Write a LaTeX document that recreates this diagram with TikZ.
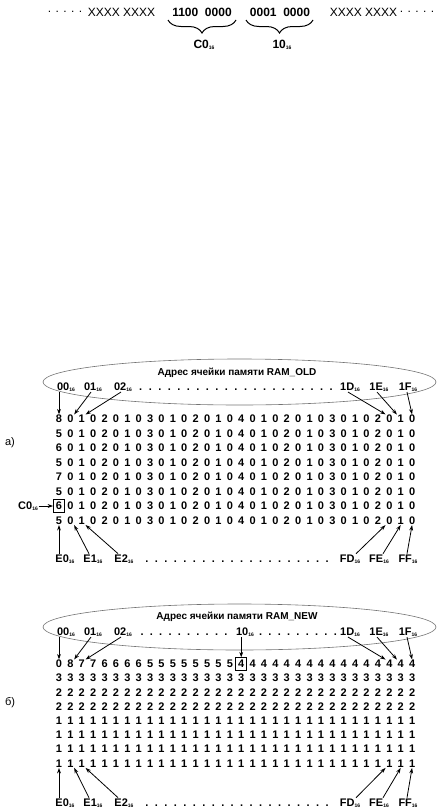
\documentclass[tikz,border=0pt]{standalone}
\usepackage{fontspec}
\setmainfont{Liberation Sans}
\usetikzlibrary{decorations.pathreplacing,arrows.meta,calc,shapes.geometric}
\newcommand\hexsub[1]{#1\raisebox{-1.3pt}{\fontsize{5}{5}\selectfont 16}}
\newcommand\mydotrow[2]{\hbox to #1{\xleaders\hbox to #2{\hss.\hss}\hfill}}
\begin{document}
\begin{tikzpicture}[x=1pt,y=-1pt,
  cell/.style={font=\fontsize{11}{11}\bfseries\selectfont, inner sep=0.5pt},
  lbl/.style={font=\fontsize{11}{11}\bfseries\selectfont, inner sep=0.5pt, anchor=base},
  ttl/.style={font=\fontsize{10}{10}\bfseries\selectfont, inner sep=0.5pt},
  topreg/.style={font=\fontsize{12}{12}\selectfont, inner sep=0.5pt},
  topbold/.style={font=\fontsize{12}{12}\bfseries\selectfont, inner sep=0.5pt},
  arr/.style={line width=0.8pt, -{Stealth[length=5.5pt,width=3.8pt]}},
  oval/.style={draw=black!55, line width=0.6pt},
  brc/.style={decorate, decoration={brace, mirror, amplitude=13pt}, line width=1pt},
  cellbox/.style={draw, line width=0.7pt, minimum width=11pt, minimum height=12.5pt, inner sep=0pt}]
\useasboundingbox (0,0) rectangle (445,811);

% ---------- top: bytes ----------
\node[topreg] (tdl) at (65,12) {. . . . .};
\node[topreg] (txl) at (121.5,12) {XXXX XXXX};
\node[topbold] (tb1) at (202,12) {1100\ \ 0000};
\node[topbold] (tb2) at (280,12) {0001\ \ 0000};
\node[topreg] (txr) at (363.5,12) {XXXX XXXX};
\node[topreg] (tdr) at (417,12) {. . . . .};
\coordinate (b1l) at (168,20); \coordinate (b1r) at (236,20);
\coordinate (b2l) at (246,20); \coordinate (b2r) at (313,20);
\draw[brc] (b1l) -- (b1r);
\draw[brc] (b2l) -- (b2r);
\node[topbold] (c0top) at (204,45) {\hexsub{C0}};
\node[topbold] (h10top) at (282,45) {\hexsub{10}};

% ---------- part a ----------
\node[oval, ellipse, minimum width=393pt, minimum height=46pt, inner sep=0pt] (ova) at (239.5,382) {};
\node[ttl] (tta) at (237,373) {Адрес ячейки памяти RAM\_OLD};
\node[lbl] (la00) at (66,390) {\hexsub{00}};
\node[lbl] (la01) at (93,390) {\hexsub{01}};
\node[lbl] (la02) at (123,390) {\hexsub{02}};
\node[lbl] (dta) at (236,390) {\mydotrow{200pt}{9.5pt}};
\node[lbl] (la1D) at (350,390) {\hexsub{1D}};
\node[lbl] (la1E) at (379,390) {\hexsub{1E}};
\node[lbl] (la1F) at (408,390) {\hexsub{1F}};

\foreach \first [count=\i from 0] in {8,5,6,5,7,5,6,5} {
  \node[cell] (a-\i-0) at (59,{419+14.5*\i}) {\first};
  \foreach \v [count=\j from 1] in {0,1,0,2,0,1,0,3,0,1,0,2,0,1,0,4,0,1,0,2,0,1,0,3,0,1,0,2,0,1,0} {
    \node[cell] (a-\i-\j) at ({59+11.39*\j},{419+14.5*\i}) {\v};
  }
}
\node[cellbox] (boxa) at (a-6-0) {};
\node[lbl] (lc0) at (28,509) {\hexsub{C0}};
\draw[arr] (lc0.east |- boxa.west) -- (boxa.west);

\draw[arr] (la00.south -| a-0-0.north) -- (a-0-0.north);
\draw[arr] ([xshift=-2pt]la01.south) -- (a-0-1.north east);
\draw[arr] ([xshift=-2pt]la02.south) -- (a-0-2.north east);
\draw[arr] ([xshift=-2pt]la1D.south) -- (a-0-29.north west);
\draw[arr] ([xshift=-2pt]la1E.south) -- (a-0-30.north west);
\draw[arr] ([xshift=-1pt]la1F.south) -- (a-0-31.north);

\node[lbl] (laE0) at (65,562) {\hexsub{E0}};
\node[lbl] (laE1) at (93,562) {\hexsub{E1}};
\node[lbl] (laE2) at (124,562) {\hexsub{E2}};
\node[lbl] (dba) at (237,562) {\mydotrow{190pt}{9.05pt}};
\node[lbl] (laFD) at (350,562) {\hexsub{FD}};
\node[lbl] (laFE) at (379,562) {\hexsub{FE}};
\node[lbl] (laFF) at (408,562) {\hexsub{FF}};
\draw[arr] (laE0.north -| a-7-0.south) -- (a-7-0.south);
\draw[arr] ([xshift=-4pt]laE1.north) -- (a-7-1.south east);
\draw[arr] ([xshift=-6pt]laE2.north) -- (a-7-2.south east);
\draw[arr] ([xshift=6pt]laFD.north) -- (a-7-29.south west);
\draw[arr] ([xshift=4pt]laFE.north) -- (a-7-30.south);
\draw[arr] ([xshift=-1pt]laFF.north) -- (a-7-31.south);

\node[font=\fontsize{11}{11}\selectfont] (pa) at (10,443) {а)};

% ---------- part b ----------
\node[oval, ellipse, minimum width=393pt, minimum height=46pt, inner sep=0pt] (ovb) at (239.5,627) {};
\node[ttl] (ttb) at (237,617) {Адрес ячейки памяти RAM\_NEW};
\node[lbl] (lb00) at (66,635) {\hexsub{00}};
\node[lbl] (lb01) at (93,635) {\hexsub{01}};
\node[lbl] (lb02) at (123,635) {\hexsub{02}};
\node[lbl] (dtb1) at (184,635) {\mydotrow{93pt}{9.3pt}};
\node[lbl] (lb10) at (245,635) {\hexsub{10}};
\node[lbl] (dtb2) at (298,635) {\mydotrow{84pt}{9.3pt}};
\node[lbl] (lb1D) at (350,635) {\hexsub{1D}};
\node[lbl] (lb1E) at (379,635) {\hexsub{1E}};
\node[lbl] (lb1F) at (408,635) {\hexsub{1F}};

\foreach \v [count=\j from 0] in {0,8,7,7,6,6,6,6,5,5,5,5,5,5,5,5,4,4,4,4,4,4,4,4,4,4,4,4,4,4,4,4} {
  \node[cell] (b-0-\j) at ({59+11.39*\j},664) {\v};
}
\foreach \v [count=\i] in {3,2,2,1,1,1,1} {
  \foreach \j in {0,...,31} {
    \node[cell] (b-\i-\j) at ({59+11.39*\j},{664+14.2*\i}) {\v};
  }
}
\node[cellbox] (boxb) at (b-0-16) {};

\draw[arr] (lb00.south -| b-0-0.north) -- (b-0-0.north);
\draw[arr] ([xshift=-2pt]lb01.south) -- (b-0-1.north east);
\draw[arr] ([xshift=-2pt]lb02.south) -- (b-0-2.north east);
\draw[arr] (lb10.south -| boxb.north) -- (boxb.north);
\draw[arr] ([xshift=-2pt]lb1D.south) -- (b-0-29.north west);
\draw[arr] ([xshift=-2pt]lb1E.south) -- (b-0-30.north west);
\draw[arr] ([xshift=-1pt]lb1F.south) -- (b-0-31.north);

\node[lbl] (lbE0) at (65,806) {\hexsub{E0}};
\node[lbl] (lbE1) at (93,806) {\hexsub{E1}};
\node[lbl] (lbE2) at (124,806) {\hexsub{E2}};
\node[lbl] (dbb) at (237,806) {\mydotrow{190pt}{9.05pt}};
\node[lbl] (lbFD) at (350,806) {\hexsub{FD}};
\node[lbl] (lbFE) at (379,806) {\hexsub{FE}};
\node[lbl] (lbFF) at (408,806) {\hexsub{FF}};
\draw[arr] (lbE0.north -| b-7-0.south) -- (b-7-0.south);
\draw[arr] ([xshift=-4pt]lbE1.north) -- (b-7-1.south east);
\draw[arr] ([xshift=-6pt]lbE2.north) -- (b-7-2.south east);
\draw[arr] ([xshift=6pt]lbFD.north) -- (b-7-29.south west);
\draw[arr] ([xshift=4pt]lbFE.north) -- (b-7-30.south);
\draw[arr] ([xshift=-1pt]lbFF.north) -- (b-7-31.south);

\node[font=\fontsize{11}{11}\selectfont] (pb) at (10,703) {б)};
\end{tikzpicture}
\end{document}
